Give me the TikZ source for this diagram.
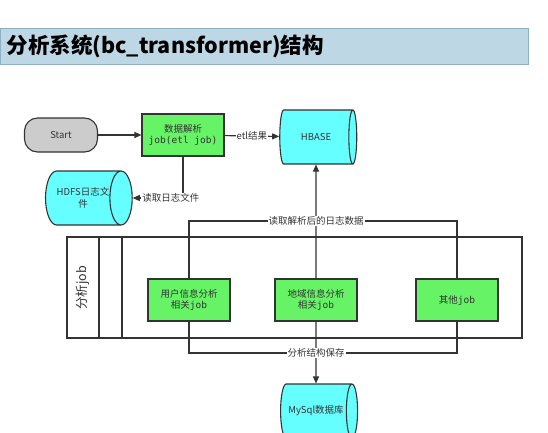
\documentclass[tikz,border=0pt]{standalone}
\usepackage{fontspec}
\setmainfont{Noto Sans CJK SC}
\newfontfamily\jobfont{DejaVu Sans Mono}
\usetikzlibrary{shapes.geometric,arrows.meta}
\definecolor{jobgreen}{HTML}{66F466}
\definecolor{dbcyan}{HTML}{66FFFF}
\definecolor{startgray}{HTML}{CCCCCC}
\definecolor{linegray}{HTML}{333333}
\definecolor{titleblue}{HTML}{BDD7E4}
\definecolor{titleedge}{HTML}{8DB0C4}
\begin{document}
\begin{tikzpicture}[
        x=1pt, y=-1pt,
        >={Triangle[length=7pt,width=6pt]},
        every node/.style={text=linegray, font=\fontsize{9.5}{11.5}\selectfont},
        jobn/.style={draw=linegray, line width=1.1pt, fill=jobgreen, minimum width=82pt, minimum height=42pt, align=center, inner sep=1pt},
        startn/.style={draw=linegray, line width=1.1pt, fill=startgray, rounded corners=13pt, minimum width=73pt, minimum height=34pt},
        dbn/.style={draw=linegray, line width=1.1pt, fill=dbcyan, cylinder, shape aspect=1.1, minimum width=54pt, minimum height=77pt, inner sep=0pt, align=center},
        lbln/.style={fill=white, inner sep=1pt},
        conn/.style={draw=linegray, line width=1.1pt},
    ]
    \useasboundingbox (0,0) rectangle (548,433);
    \clip (0,0) rectangle (548,433);
    \draw[titleedge, fill=titleblue] (0,28) rectangle (528,64);
    \node[anchor=west, text=black, font=\fontsize{21.5}{24}\selectfont\bfseries] (title) at (3,46) {分析系统(bc\_transformer)结构};

    \node[startn](start) at (61,135) {Start};
    \node[jobn](etl) at (183,135) {数据解析\\{\jobfont job(etl job)}};
    \node[dbn](hbase) at (316,137) {HBASE};
    \node[dbn](hdfs) at (83,198) {HDFS日志文\\件};

    \draw[conn] (67,237) rectangle (522,338);
    \draw[conn] (99,237) -- (99,338);
    \draw[conn] (122,237) -- (122,338);
    \node[rotate=90, font=\fontsize{12.5}{14}\selectfont] (jobs) at (83,288) {分析job};

    \node[jobn](user) at (189,300) {用户信息分析\\相关{\jobfont job}};
    \node[jobn](area) at (316,300) {地域信息分析\\相关{\jobfont job}};
    \node[jobn](other) at (457,300) {其他{\jobfont job}};

    \node[dbn](mysql) at (316,411) {MySql数据库};

    \coordinate (readin) at (316,221);
    \coordinate (saveout) at (316,353);

    \draw[conn, ->] (start) -- (etl);
    \draw[conn, ->] (etl) -- node[lbln]{etl结果} (hbase);
    \draw[conn, ->] (etl.south) |- node[lbln, pos=0.62]{读取日志文件} (hdfs);

    \draw[conn] (user.north) |- (other.north |- readin) -- (other.north);
    \draw[conn, ->] (area.north) -- (hbase.south);
    \node[lbln] (readlbl) at (readin) {读取解析后的日志数据};

    \draw[conn] (user.south) |- (other.south |- saveout) -- (other.south);
    \draw[conn, ->] (area.south) -- (mysql.north);
    \node[lbln] (savelbl) at (saveout) {分析结构保存};
\end{tikzpicture}
\end{document}
